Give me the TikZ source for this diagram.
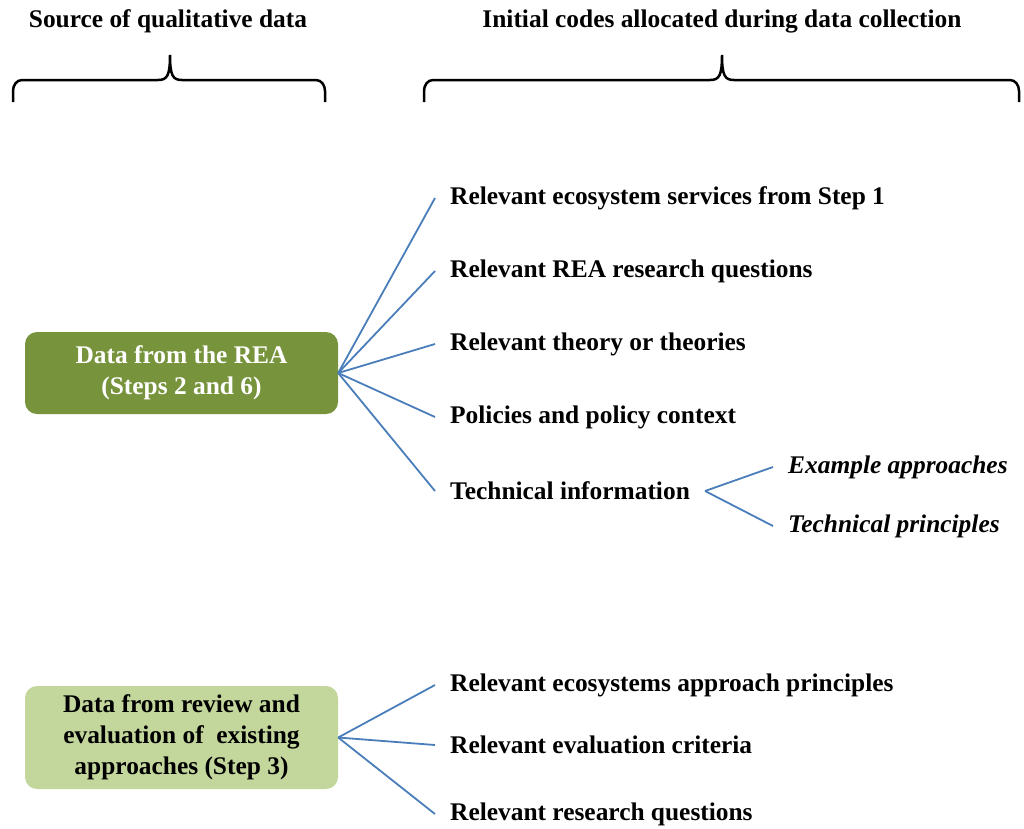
\documentclass[tikz,border=0pt]{standalone}
\usepackage{fontspec}
\setmainfont{Liberation Serif}

\definecolor{reagreen}{HTML}{77933C}
\definecolor{reviewgreen}{HTML}{C3D69B}
\definecolor{linkblue}{HTML}{4A7EBB}

\begin{document}
\begin{tikzpicture}[x=1pt,y=-1pt,
		every node/.style={font=\fontsize{25.4}{31}\selectfont\bfseries},
		code/.style={anchor=west,inner xsep=15pt,inner ysep=0pt},
		sub/.style={code,font=\fontsize{25.4}{31}\selectfont\bfseries\itshape},
		source/.style={rounded corners=12pt,minimum width=313pt,align=center,text depth=6pt},
		link/.style={draw=linkblue,line width=1.8pt},
		brace/.style={line width=2.5pt}]
				\useasboundingbox (0,0) rectangle (1024,828);
				\node (srctitle) at (168, 21) {Source of qualitative data};
				\node (codetitle) at (722, 21) {Initial codes allocated during data collection};
				\draw[brace] (13,102) -- (13,91) to[out=90,in=180] (22,80) -- (158,80) .. controls (167,80) and (170,76) .. (170,55) .. controls (170,76) and (173,80) .. (182,80) -- (316,80) to[out=0,in=90] (325,91) -- (325,102);
				\draw[brace] (424,102) -- (424,91) to[out=90,in=180] (433,80) -- (710,80) .. controls (719,80) and (722,76) .. (722,55) .. controls (722,76) and (725,80) .. (734,80) -- (1010,80) to[out=0,in=90] (1019,91) -- (1019,102);
				\node[source, fill=reagreen, text=white, minimum height=82pt] (rea) at (181.5, 373) {Data from the REA\\(Steps 2 and 6)};
				\node[source, fill=reviewgreen, minimum height=103pt] (review) at (181.5, 737.5) {Data from review and\\evaluation of~ existing\\approaches (Step 3)};
				\node[code] (services) at (435, 198) {Relevant ecosystem services from Step 1};
				\node[code] (reaquest) at (435, 271) {Relevant REA research questions};
				\node[code] (theory) at (435, 344) {Relevant theory or theories};
				\node[code] (policy) at (435, 417) {Policies and policy context};
				\node[code] (technical) at (435, 491) {Technical information};
				\node[sub] (examples) at (773, 467) {Example approaches};
				\node[sub] (principles) at (773, 526) {Technical principles};
				\node[code] (eaprinc) at (435, 685) {Relevant ecosystems approach principles};
				\node[code] (criteria) at (435, 745) {Relevant evaluation criteria};
				\node[code] (resquest) at (435, 814) {Relevant research questions};
				\draw[link] (rea.east) -- (services.west);
				\draw[link] (rea.east) -- (reaquest.west);
				\draw[link] (rea.east) -- (theory.west);
				\draw[link] (rea.east) -- (policy.west);
				\draw[link] (rea.east) -- (technical.west);
				\draw[link] (technical.east) -- (examples.west);
				\draw[link] (technical.east) -- (principles.west);
				\draw[link] (review.east) -- (eaprinc.west);
				\draw[link] (review.east) -- (criteria.west);
				\draw[link] (review.east) -- (resquest.west);
			\end{tikzpicture}
\end{document}
